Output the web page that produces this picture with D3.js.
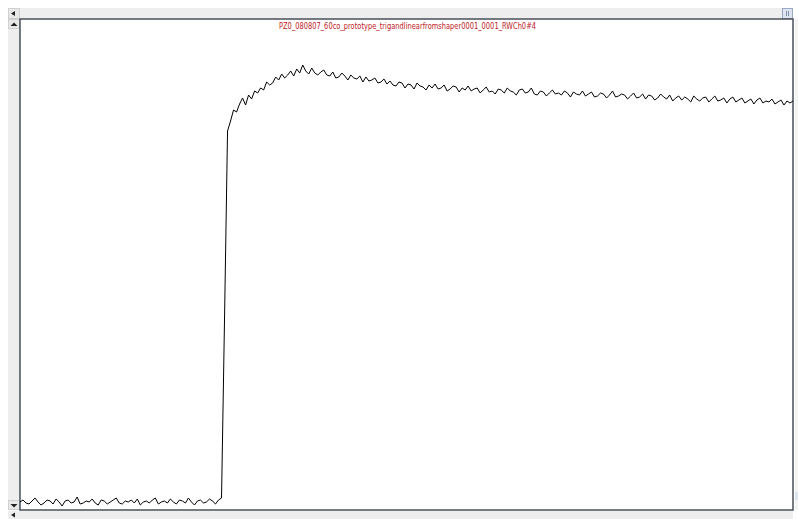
<!DOCTYPE html>
<html>
<head>
<meta charset="utf-8">
<script src="https://cdn.jsdelivr.net/npm/d3@7"></script>
<style>
    body { margin: 0; background: #ffffff; }
    #chart { width: 798px; height: 519px; }
    .title { font-family: "DejaVu Sans Condensed", "DejaVu Sans", sans-serif; font-size: 8px; fill: #c0201e; }
</style>
</head>
<body>
<div id="chart"></div>
<script>
var title = "PZ0_080807_60co_prototype_trigandlinearfromshaper0001_0001_RWCh0#4";

/* baseline before the trigger, samples 0 - 67 */
var baseline = [7,9,6,5,8,11,7,4,6,9,
                8,5,10,7,3,8,9,6,7,12,
                5,6,8,7,10,6,4,9,8,5,
                7,9,11,6,5,8,7,9,6,10,
                4,7,8,6,9,11,5,7,8,6,
                10,7,5,9,8,6,11,7,4,8,
                9,6,7,10,8,5,9,11];

/* the step itself */
var rise = [190, 378];

/* rounded top after the step, samples 70 - 99 */
var shoulder = [388,399,397,405,411,404,414,410,418,416,
                421,419,427,424,426,432,429,435,431,434,
                438,433,440,436,444,438,435,441,436,434];

/* slow decay, samples 100 - 257 */
var tail = [437,439,434,433,437,431,432,436,433,429,
            434,431,430,433,427,432,428,429,431,426,
            427,430,425,428,424,423,427,426,421,425,
            424,420,426,423,422,419,424,421,425,420,
            421,424,418,420,423,422,417,421,419,423,
            418,420,421,416,419,422,417,418,415,420,
            419,416,421,418,417,414,419,420,416,417,
            421,415,414,418,417,413,416,419,415,416,
            414,418,416,412,417,415,414,418,413,415,
            417,412,413,416,415,411,414,418,412,413,
            415,414,410,413,416,411,412,415,410,414,
            413,409,411,415,412,410,414,408,411,413,
            409,412,410,407,413,410,408,411,412,407,
            410,413,408,409,411,406,410,412,407,409,
            411,406,408,410,405,409,411,406,408,407,
            410,405,407,409,404,408,406,408];

var values = baseline.concat(rise, shoulder, tail);

var width = 798;
var height = 519;
var plot = {left: 20, top: 19, right: 793, bottom: 510};

var svg = d3.select("#chart")
    .append("svg")
    .attr("width", width)
    .attr("height", height);

/* window chrome: scroll bars round the trace panel */
svg.append("rect").attr("x", 8).attr("y", 8).attr("width", 785).attr("height", 11).attr("fill", "#eeeeee");
svg.append("rect").attr("x", 8).attr("y", 19).attr("width", 12).attr("height", 491).attr("fill", "#eeeeee");
svg.append("rect").attr("x", 8).attr("y", 511).attr("width", 785).attr("height", 8).attr("fill", "#eeeeee");

// little buttons
svg.append("rect").attr("x", 8.5).attr("y", 8.5).attr("width", 11).attr("height", 10).attr("fill", "#e8e8e8").attr("stroke", "#d0d0d0");
svg.append("rect").attr("x", 8.5).attr("y", 19.5).attr("width", 11).attr("height", 9).attr("fill", "#e8e8e8").attr("stroke", "#d0d0d0");
svg.append("rect").attr("x", 8.5).attr("y", 500.5).attr("width", 11).attr("height", 9).attr("fill", "#e8e8e8").attr("stroke", "#d0d0d0");
svg.append("rect").attr("x", 782.5).attr("y", 8.5).attr("width", 10).attr("height", 10).attr("fill", "#dde4f0").attr("stroke", "#9aa8c8");
svg.append("line").attr("x1", 786.5).attr("x2", 786.5).attr("y1", 11).attr("y2", 16).attr("stroke", "#8090b0");
svg.append("line").attr("x1", 788.5).attr("x2", 788.5).attr("y1", 11).attr("y2", 16).attr("stroke", "#8090b0");

svg.append("path").attr("d", "M11,13.5L15,11L15,16Z").attr("fill", "#222");
svg.append("path").attr("d", "M10.5,26L14,22.5L17.5,26Z").attr("fill", "#222");
svg.append("path").attr("d", "M10.5,504L17.5,504L14,507.5Z").attr("fill", "#222");
svg.append("path").attr("d", "M11,515L15,512.5L15,517.5Z").attr("fill", "#222");

// bits of the next panel on the right
svg.append("rect").attr("x", 795).attr("y", 19).attr("width", 3).attr("height", 491).attr("fill", "#f4f4f4");
svg.append("rect").attr("x", 795).attr("y", 492).attr("width", 3).attr("height", 8).attr("fill", "#dde4f0");

/* trace panel */
svg.append("rect")
    .attr("x", plot.left)
    .attr("y", plot.top)
    .attr("width", plot.right - plot.left)
    .attr("height", plot.bottom - plot.top)
    .attr("fill", "#ffffff")
    .attr("stroke", "#4a4f5a")
    .attr("stroke-width", 1.5);

var xScale = d3.scaleLinear()
    .domain([0, values.length - 1])
    .range([plot.left, plot.right]);

var yScale = d3.scaleLinear()
    .domain([0, 490])
    .range([plot.bottom - 1, plot.top]);

var line = d3.line()
    .x(function(d, i) { return xScale(i); })
    .y(function(d) { return yScale(d); });

svg.append("path")
    .datum(values)
    .attr("d", line)
    .attr("fill", "none")
    .attr("stroke", "#000000")
    .attr("stroke-width", 1);

svg.append("text")
    .attr("class", "title")
    .attr("x", (plot.left + plot.right) / 2 + 1)
    .attr("y", 29)
    .attr("text-anchor", "middle")
    .attr("textLength", 257)
    .attr("lengthAdjust", "spacingAndGlyphs")
    .text(title);
</script>
</body>
</html>
